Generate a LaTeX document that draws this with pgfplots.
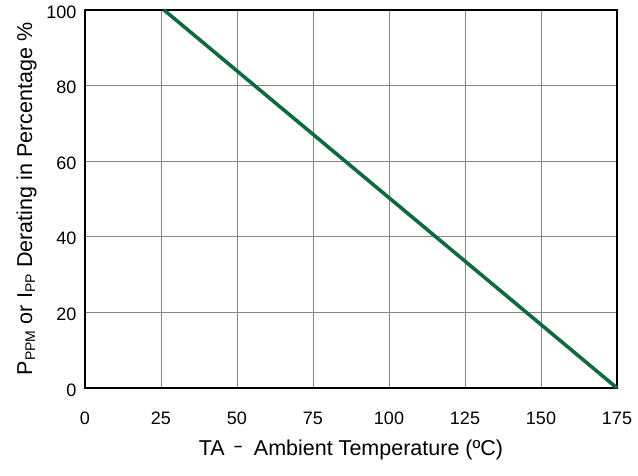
\documentclass[border=0pt]{standalone}
\usepackage{pgfplots}
\pgfplotsset{compat=1.18}
\usepackage{fontspec}
\setmainfont{Liberation Sans}
\definecolor{lgreen}{HTML}{0F6B3F}
\begin{document}
\begin{tikzpicture}
\begin{axis}[
  scale only axis,
  width=532pt, height=378pt,
  xmin=0, xmax=175, ymin=0, ymax=100,
  xtick={0,25,...,175}, ytick={0,20,...,100},
  grid=major,
  major grid style={draw=gray!95, line width=0.8pt},
  axis line style={black, line width=1.6pt},
  tick style={draw=none},
  /pgf/number format/assume math mode=true,
  tick label style={font=\fontsize{18}{21}\selectfont},
  xticklabel style={yshift=-20pt, text height=13pt, text depth=0pt},
  yticklabel style={xshift=-5pt, yshift=-2pt},
  xlabel={TA\hspace{10pt}\raisebox{0.3ex}{\scalebox{0.6}[1]{–}}\hspace{12pt}Ambient Temperature (ºC)},
  ylabel={P\textsubscript{\fontsize{14}{15}\selectfont PPM} or I\textsubscript{\fontsize{14}{15}\selectfont PP} Derating in Percentage \%},
  label style={font=\fontsize{21.5}{24}\selectfont},
  xlabel style={yshift=-9pt},
  ylabel style={yshift=3pt},
  clip=false,
]
\addplot[lgreen, line width=3.6pt] coordinates {(26,100) (175,0)};
\end{axis}
\path ([shift={(-85pt,-87pt)}]current axis.south west) rectangle ([shift={(21pt,10pt)}]current axis.north east);
\end{tikzpicture}
\end{document}
